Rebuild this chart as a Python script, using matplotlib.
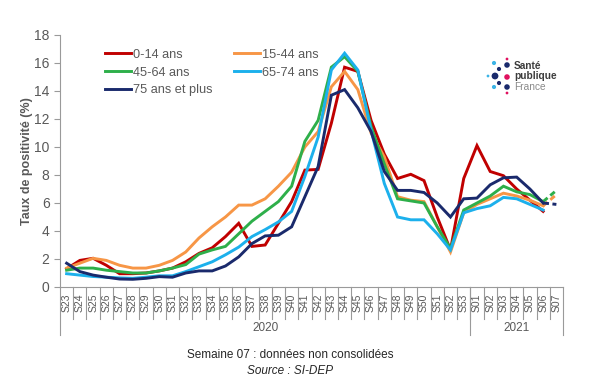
import numpy as np
import matplotlib
matplotlib.use('Agg')
from matplotlib import pyplot as plt

plt.rcParams['font.family'] = ['Liberation Sans', 'DejaVu Sans']

weeks = ['S%02d' % w for w in range(23, 54)] + ['S%02d' % w for w in range(1, 8)]
years = ['2020', '2021']
n_2020 = 31

age_0_14 = [1.3, 1.9, 2.05, 1.55, 0.95, 0.95, 1.0, 1.15, 1.35, 1.8,
            2.4, 2.8, 3.6, 4.55, 2.9, 3.0, 4.55, 6.1, 8.35, 8.4,
            11.7, 15.7, 15.4, 11.9, 9.5, 7.75, 8.05, 7.6, 5.0, 2.65,
            7.75, 10.1, 8.25, 7.95, 7.0, 6.2, 5.4, np.nan]
age_15_44 = [1.35, 1.7, 2.05, 1.9, 1.55, 1.35, 1.35, 1.55, 1.9, 2.5,
             3.5, 4.3, 5.0, 5.85, 5.85, 6.3, 7.2, 8.2, 10.0, 11.1,
             14.3, 15.4, 14.1, 11.0, 9.3, 6.45, 6.2, 6.1, 4.3, 2.5,
             5.3, 5.9, 6.3, 6.7, 6.5, 6.2, 5.8, 6.6]
age_45_64 = [1.2, 1.35, 1.35, 1.2, 1.1, 1.0, 1.0, 1.15, 1.35, 1.6,
             2.35, 2.65, 2.9, 3.8, 4.7, 5.4, 6.1, 7.2, 10.4, 11.9,
             15.7, 16.45, 15.4, 11.45, 8.8, 6.3, 6.15, 6.0, 4.3, 2.75,
             5.5, 6.0, 6.5, 7.2, 6.8, 6.6, 6.1, 6.9]
age_65_74 = [0.95, 0.85, 0.75, 0.7, 0.65, 0.62, 0.7, 0.8, 0.8, 1.1,
             1.45, 1.8, 2.3, 2.85, 3.6, 4.1, 4.65, 5.4, 7.9, 10.7,
             15.5, 16.7, 15.5, 11.2, 7.4, 5.0, 4.8, 4.8, 3.8, 2.65,
             5.3, 5.6, 5.8, 6.4, 6.3, 5.9, 5.5, np.nan]
age_75_plus = [1.7, 1.1, 0.85, 0.7, 0.57, 0.55, 0.62, 0.74, 0.7, 1.0,
               1.15, 1.15, 1.5, 2.15, 3.1, 3.65, 3.7, 4.3, 6.45, 8.6,
               13.7, 14.1, 12.8, 11.1, 8.25, 6.9, 6.9, 6.75, 6.0, 5.0,
               6.3, 6.35, 7.3, 7.8, 7.85, 7.0, 6.0, 5.9]

series = [
    ('0-14 ans', age_0_14, '#C00000'),
    ('15-44 ans', age_15_44, '#F79646'),
    ('45-64 ans', age_45_64, '#2EAF4A'),
    ('65-74 ans', age_65_74, '#1CB0EC'),
    ('75 ans et plus', age_75_plus, '#1A2A6C'),
]

grey = '#595959'
axis_grey = '#9a9a9a'

fig = plt.figure(figsize=(6, 3.85), dpi=100)
ax = fig.add_axes([60 / 600, 1 - 287 / 385, 503 / 600, 252 / 385])

x = np.arange(len(weeks))
handles = {}
for label, vals, color in series:
    vals = np.array(vals, dtype=float)
    h, = ax.plot(x[:-1], vals[:-1], color=color, lw=2.1, solid_joinstyle='miter')
    ax.plot(x[-2:], vals[-2:], color=color, lw=2.1, ls=(0, (2, 1.2)))
    handles[label] = h

ax.set_xlim(-0.5, len(weeks) - 0.5)
ax.set_ylim(0, 18)
ax.set_yticks(range(0, 19, 2))
ax.tick_params(axis='y', colors=axis_grey, labelcolor=grey, labelsize=10,
               length=4, width=0.8)
ax.set_xticks([])
for s in ['top', 'right']:
    ax.spines[s].set_visible(False)
for s in ['left', 'bottom']:
    ax.spines[s].set_color(axis_grey)
    ax.spines[s].set_linewidth(0.8)

ax.set_ylabel('Taux de positivité (%)', fontsize=9, fontweight='bold',
              color=grey, labelpad=0.5)

# category labels in boxes
tr = ax.get_xaxis_transform()
for i, w in enumerate(weeks):
    ax.text(i, -0.063, w, transform=tr, rotation=90, ha='center', va='center',
            fontsize=7.5, color=grey)
for i in range(1, len(weeks)):
    ax.plot([i - 0.5, i - 0.5], [0, -0.125], transform=tr, color=axis_grey,
            lw=0.8, clip_on=False)
for xb in [-0.5, n_2020 - 0.5, len(weeks) - 0.5]:
    ax.plot([xb, xb], [0, -0.19], transform=tr, color=axis_grey, lw=0.8,
            clip_on=False)
ax.text((n_2020 - 1) / 2, -0.163, years[0], transform=tr, ha='center',
        va='center', fontsize=8.5, color=grey)
ax.text((n_2020 + len(weeks) - 1) / 2, -0.163, years[1], transform=tr,
        ha='center', va='center', fontsize=8.5, color=grey)

order = ['0-14 ans', '45-64 ans', '75 ans et plus', '15-44 ans', '65-74 ans']
ax.legend([handles[k] for k in order], order, ncol=2, frameon=False,
          loc='upper left', bbox_to_anchor=(0.08, 0.965), borderaxespad=0,
          fontsize=9.2, handlelength=2.0, handletextpad=0.15,
          columnspacing=1.7, labelspacing=0.45, labelcolor=grey)

# logo
fig.text(514 / 600, 1 - 66 / 385, 'Santé', fontsize=7.3, fontweight='bold',
         color='#3d3d3d', va='center')
fig.text(514 / 600, 1 - 76 / 385, 'publique', fontsize=7.3, fontweight='bold',
         color='#3d3d3d', va='center')
fig.text(514 / 600, 1 - 87 / 385, 'France', fontsize=7.3, color='#8a8a8a',
         va='center')
dots_x = [507, 507, 507, 507, 507, 499, 494, 488, 495, 499, 494]
dots_y = [59, 65, 77, 87, 93, 69, 63, 76, 76, 83, 87]
dots_c = ['#E0115F', '#1A2A6C', '#E0115F', '#1A2A6C', '#E0115F', '#1A2A6C',
          '#3CB4E6', '#3CB4E6', '#1A2A6C', '#1A2A6C', '#3CB4E6']
dots_s = [4, 16, 16, 16, 4, 9, 9, 4, 24, 9, 9]
lax = fig.add_axes([0, 0, 1, 1], facecolor='none')
lax.set_xlim(0, 600)
lax.set_ylim(385, 0)
lax.axis('off')
lax.scatter(dots_x, dots_y, s=dots_s, c=dots_c, linewidths=0)

fig.text(290 / 600, 1 - 355 / 385, 'Semaine 07 : données non consolidées',
         ha='center', va='center', fontsize=8.5, color='#262626')
fig.text(290 / 600, 1 - 371 / 385, 'Source : SI-DEP', ha='center',
         va='center', fontsize=8.5, style='italic', color='#262626')

fig.savefig('out.png', dpi=100)
